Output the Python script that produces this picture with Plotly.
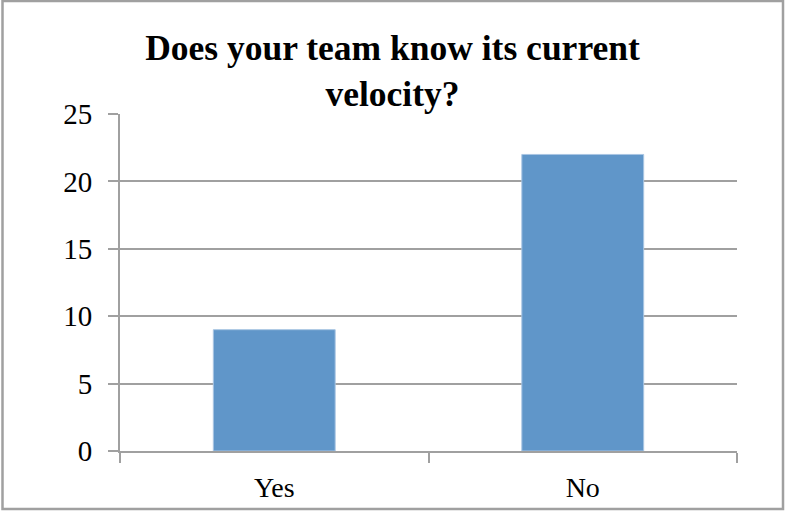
import plotly.graph_objects as go

# Survey answers
categories = ["Yes", "No"]
counts = [9, 22]

# Y axis ticks
y_ticks = [0, 5, 10, 15, 20, 25]

W, H = 785, 512
ML, MR, MT, MB = 120, 48, 114, 61
GRID = "#a0a0a0"
BAR = "#6096c9"
SERIF = "Liberation Serif"

fig = go.Figure(
    go.Bar(
        x=categories,
        y=counts,
        marker=dict(color=BAR, line=dict(color="#a9c5e3", width=1)),
        hoverinfo="x+y",
    )
)

# Outer frame around the whole chart, expressed in paper coordinates
pw, ph = W - ML - MR, H - MT - MB
def px_x(p):
    return (p - ML) / pw
def px_y(p):
    return (H - MB - p) / ph

fig.add_shape(
    type="rect", xref="paper", yref="paper",
    x0=px_x(2.5), x1=px_x(783), y0=px_y(509), y1=px_y(1),
    line=dict(color=GRID, width=2.5), fillcolor="rgba(0,0,0,0)", layer="above",
)

fig.update_layout(
    width=W, height=H,
    margin=dict(l=ML, r=MR, t=MT, b=MB, autoexpand=False),
    paper_bgcolor="white", plot_bgcolor="white",
    bargap=0.605,
    showlegend=False,
    title=dict(
        text="<b>Does your team know its current<br>velocity?</b>",
        x=0.5, xanchor="center", y=1 - 60 / H, yanchor="middle",
        font=dict(family=SERIF, size=35.5, color="black"),
    ),
    font=dict(family=SERIF, color="black"),
)

fig.update_xaxes(
    automargin=False,
    showgrid=False,
    showline=True, linecolor=GRID, linewidth=2,
    ticks="outside", tickson="boundaries", ticklen=10, tickwidth=2, tickcolor=GRID,
    tickfont=dict(family=SERIF, size=28, color="black"),
    ticklabelstandoff=10,
)
fig.update_yaxes(
    automargin=False,
    range=[0, 25], tickvals=y_ticks,
    showgrid=True, gridcolor=GRID, gridwidth=2,
    showline=True, linecolor=GRID, linewidth=2,
    zeroline=False,
    ticks="outside", ticklen=10, tickwidth=2, tickcolor=GRID,
    tickfont=dict(family=SERIF, size=29, color="black"),
    ticklabelstandoff=10,
)

fig.write_html("out.html")
